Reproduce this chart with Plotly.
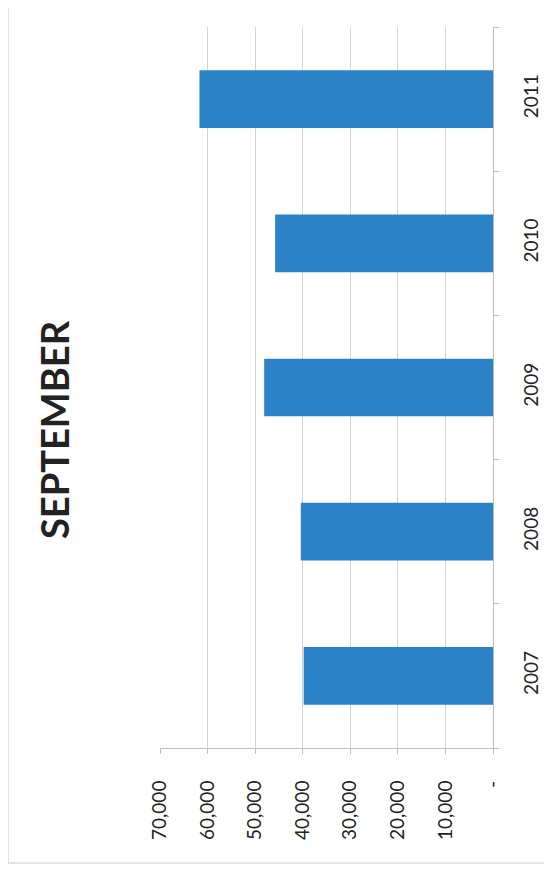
import plotly.graph_objects as go

years = ["2007", "2008", "2009", "2010", "2011"]
values = [39800, 40400, 48100, 45800, 61700]
tick_values = [70000, 60000, 50000, 40000, 30000, 20000, 10000, 0]
tick_labels = ["70,000", "60,000", "50,000", "40,000", "30,000", "20,000", "10,000", "-"]
title_text = "SEPTEMBER"

W, H = 552, 871
OFF = 8  # page body margin
L, R, T, B = 152, 67, 19, 131

fig = go.Figure(go.Bar(
    x=values, y=years, orientation="h",
    marker=dict(color="#2b82c6", line=dict(width=0)),
))

def px_to_paper_x(px):
    return (px - OFF - L) / (W - L - R)

def px_to_paper_y(py):
    return (H - B - (py - OFF)) / (H - T - B)

fig.update_layout(
    width=W, height=H,
    margin=dict(l=L, r=R, t=T, b=B),
    paper_bgcolor="white", plot_bgcolor="white",
    bargap=0.6, showlegend=False,
    font=dict(family="Lato", color="#222"),
    xaxis=dict(
        range=[70000, 0], tickvals=tick_values, ticktext=tick_labels,
        tickangle=-90, tickfont=dict(size=19, color="#222"),
        showgrid=True, gridcolor="#d4d4d4", gridwidth=1,
        showline=True, linecolor="#bdbdbd", linewidth=1,
        ticks="outside", ticklen=5, tickcolor="#bdbdbd",
        ticklabelstandoff=19, zeroline=False,
    ),
    yaxis=dict(
        side="right", tickangle=-90, tickfont=dict(size=19, color="#222"),
        showgrid=False, showline=True, linecolor="#bdbdbd", linewidth=1,
        ticks="outside", ticklen=5, tickcolor="#bdbdbd", tickson="boundaries",
        ticklabelstandoff=21, range=[-0.5, 4.5],
    ),
)

fig.add_annotation(
    text="<b>" + title_text + "</b>", textangle=-90,
    xref="paper", yref="paper",
    x=px_to_paper_x(54), y=px_to_paper_y(430),
    showarrow=False, font=dict(size=38, family="Lato", color="#222"),
    xanchor="center", yanchor="middle",
)

fig.add_shape(
    type="rect", xref="paper", yref="paper",
    x0=px_to_paper_x(8), x1=px_to_paper_x(549),
    y0=px_to_paper_y(863), y1=px_to_paper_y(1),
    line=dict(color="#c8c8c8", width=1), fillcolor="rgba(0,0,0,0)",
)

fig.write_html("out.html")
